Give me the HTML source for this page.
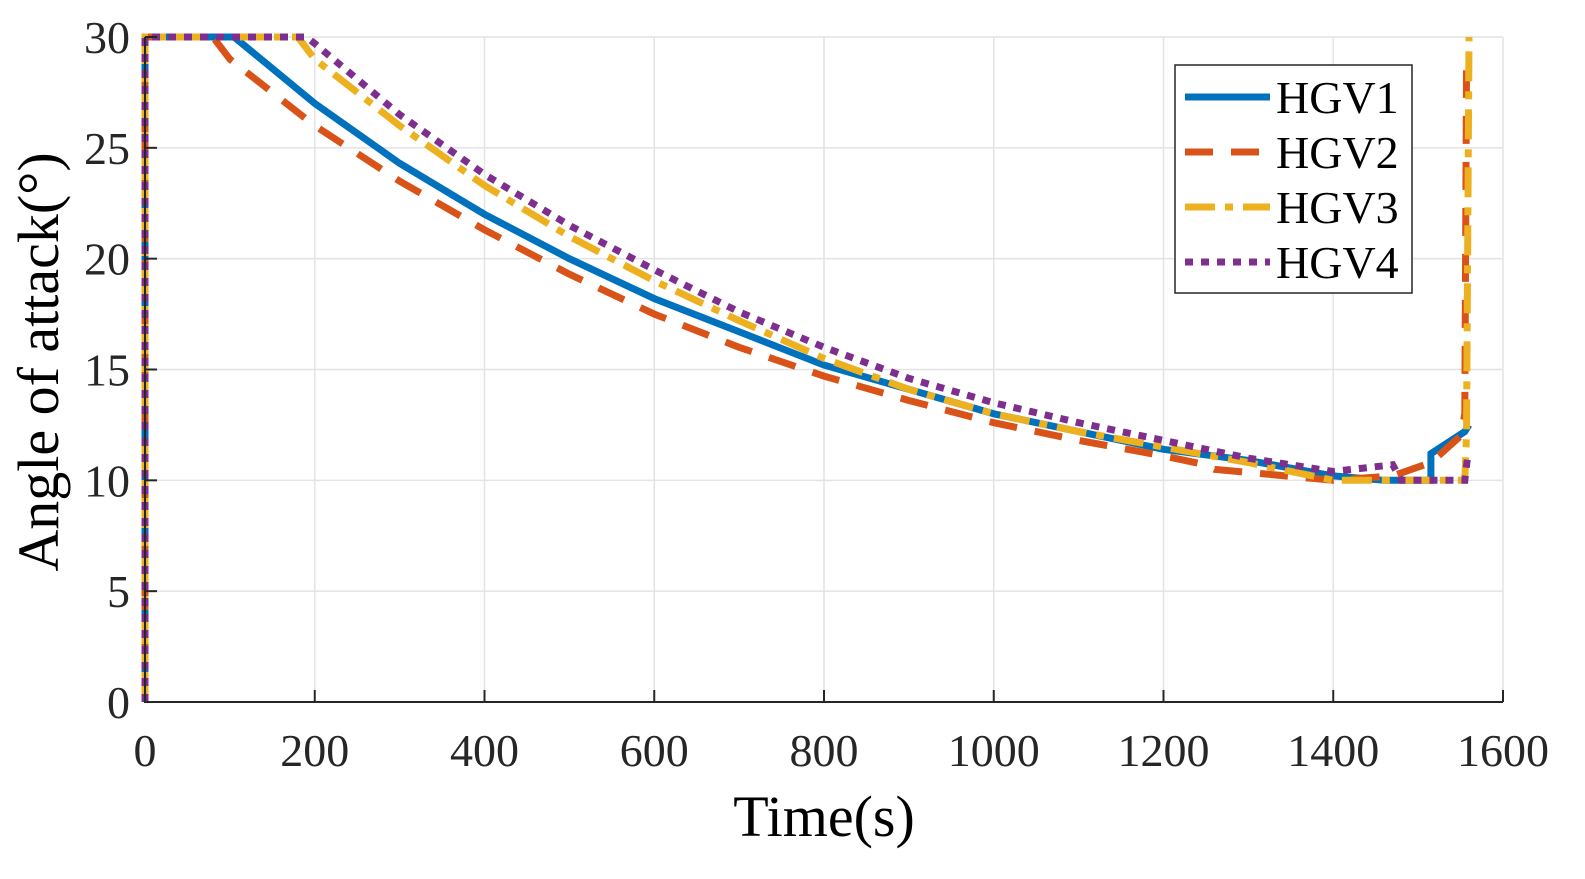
<!DOCTYPE html>
<html><head><meta charset="utf-8"><style>
body{margin:0;background:#fff}
svg{display:block;font-family:"Liberation Serif",serif}
</style></head><body>
<svg id="chart" width="1585" height="879" xmlns="http://www.w3.org/2000/svg">
<g id="grid"></g>
<g id="series"></g>
<g id="axes"></g>
<text x="824" y="836" font-size="58" text-anchor="middle">Time(s)</text>
<text transform="translate(58,362) rotate(-90)" font-size="58" text-anchor="middle">Angle of attack(°)</text>
<g id="legend"></g>
</svg>
<script>
const xTicks=[0,200,400,600,800,1000,1200,1400,1600];
const yTicks=[0,5,10,15,20,25,30];
const names=["HGV1","HGV2","HGV3","HGV4"];
const colors=["#0072BD","#D95319","#EDB120","#7E2F8E"];
const t1=[0,0,105,200,300,400,500,600,700,800,900,1000,1100,1200,1300,1400,1460,1515,1515,1555,1560];
const v1=[0,30,30,27,24.3,22,20,18.2,16.7,15.2,14.1,13,12.2,11.4,10.9,10.2,10,10,11.2,12.2,12.5];
const t2=[0,0,80,100,200,300,400,500,600,700,800,900,1000,1100,1200,1250,1260,1400,1470,1515,1550,1555,1557];
const v2=[0,30,30,29,26,23.5,21.3,19.3,17.5,16,14.7,13.6,12.6,11.8,11.1,10.7,10.5,10,10.2,10.8,12,13,28.5];
const t3=[0,0,180,200,300,400,500,600,700,800,900,1000,1100,1200,1300,1400,1555,1557,1560];
const v3=[0,30,30,29,26,23.3,21,19,17.2,15.5,14.1,13,12.2,11.5,10.8,10,10,12,30];
const t4=[0,0,190,200,300,400,500,600,700,800,900,1000,1100,1200,1300,1400,1470,1480,1555,1558];
const v4=[0,30,30,29.7,26.5,23.8,21.5,19.5,17.6,16,14.6,13.5,12.6,11.8,11,10.4,10.7,10,10,11];
const X=t=>145+t*(1358/1600), Y=v=>702-v*(665/30);
const NS="http://www.w3.org/2000/svg";
function mk(tag,attrs,parent){const e=document.createElementNS(NS,tag);for(const k in attrs)e.setAttribute(k,attrs[k]);parent.appendChild(e);return e;}
const grid=document.getElementById('grid'),axes=document.getElementById('axes'),ser=document.getElementById('series'),leg=document.getElementById('legend');
xTicks.forEach(t=>{
 const l=mk('line',{x1:X(t),x2:X(t),y1:Y(0),y2:Y(30),stroke:'#e3e3e3','stroke-width':1.5},grid);
 
 
 const tk=mk('line',{x1:X(t),x2:X(t),y1:Y(0),y2:Y(0)-12,stroke:'#262626','stroke-width':2},axes);
 
 
 const tx=mk('text',{x:X(t),y:766,'font-size':46,'text-anchor':'middle',fill:'#262626'},axes);tx.textContent=t;
 
 
});
yTicks.forEach(v=>{
 const l=mk('line',{x1:X(0),x2:X(1600),y1:Y(v),y2:Y(v),stroke:'#e3e3e3','stroke-width':1.5},grid);
 
 
 const tk=mk('line',{x1:X(0),x2:X(0)+12,y1:Y(v),y2:Y(v),stroke:'#262626','stroke-width':2},axes);
 
 
 const tx=mk('text',{x:130,y:Y(v)+16,'font-size':46,'text-anchor':'end',fill:'#262626'},axes);tx.textContent=v;
 
 
});
const ax=mk('path',{d:`M${X(0)},${Y(30)}V${Y(0)}H${X(1600)}`,fill:'none',stroke:'#262626','stroke-width':2},axes);


const dashes=['none','28 18','30 10 8 10','8 8'];
const data=[[t1,v1],[t2,v2],[t3,v3],[t4,v4]];
data.forEach((d,i)=>{
 const pts=d[0].map((t,j)=>X(t).toFixed(1)+','+Y(d[1][j]).toFixed(1)).join(' ');
 const p=mk('polyline',{points:pts,fill:'none',stroke:colors[i],'stroke-width':7,'stroke-dasharray':dashes[i]},ser);
 
 
});
const box=mk('rect',{x:1175,y:65,width:237,height:228,fill:'#fff',stroke:'#262626','stroke-width':1.5},leg);


names.forEach((n,i)=>{
 const y=97+i*55;
 const g=mk('g',{},leg);
 
 
 mk('line',{x1:1185,x2:1270,y1:y,y2:y,stroke:colors[i],'stroke-width':7,'stroke-dasharray':dashes[i]},g);
 const tx=mk('text',{x:1276,y:y+16,'font-size':46,fill:'#000'},g);tx.textContent=n;
});
</script>
</body></html>
